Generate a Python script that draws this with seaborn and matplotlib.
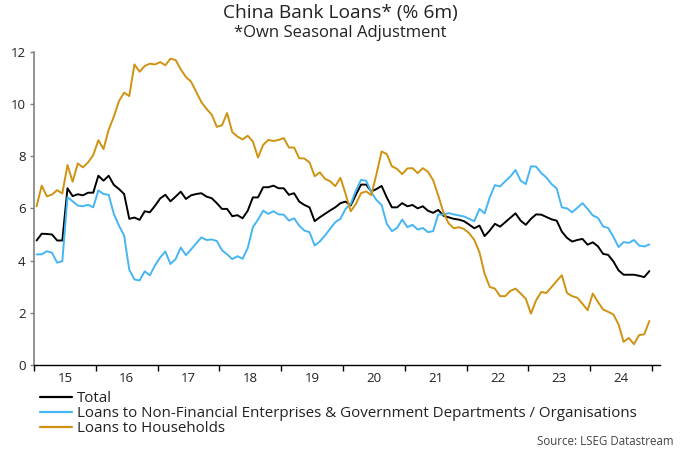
import numpy as np
import pandas as pd
import matplotlib
matplotlib.use("Agg")
import matplotlib.pyplot as plt
import seaborn as sns
from matplotlib.lines import Line2D

# Monthly data, Jan 2015 .. Dec 2024 (% 6m)
total = [4.77, 5.03, 5.02, 5.0, 4.77, 4.77, 6.77, 6.47, 6.54, 6.5, 6.6, 6.6,
         7.25, 7.06, 7.25, 6.9, 6.74, 6.55, 5.6, 5.65, 5.56, 5.89, 5.85, 6.1,
         6.38, 6.52, 6.27, 6.45, 6.64, 6.36, 6.5, 6.55, 6.58, 6.45, 6.39, 6.2,
         5.98, 5.98, 5.7, 5.74, 5.62, 5.91, 6.42, 6.42, 6.81, 6.81, 6.87, 6.77,
         6.77, 6.52, 6.58, 6.26, 6.13, 6.04, 5.51, 5.66, 5.79, 5.92, 6.04, 6.2,
         6.26, 6.11, 6.52, 6.91, 6.91, 6.65, 6.74, 6.86, 6.42, 6.04, 6.04, 6.2,
         6.08, 6.13, 6.0, 6.08, 5.91, 5.83, 5.94, 5.72, 5.66, 5.6, 5.57, 5.51,
         5.38, 5.24, 5.34, 4.94, 5.15, 5.41, 5.3, 5.47, 5.64, 5.81, 5.53, 5.37,
         5.6, 5.77, 5.76, 5.67, 5.58, 5.53, 5.11, 4.87, 4.73, 4.79, 4.83, 4.61,
         4.7, 4.55, 4.26, 4.22, 3.97, 3.63, 3.46, 3.46, 3.46, 3.42, 3.37, 3.6]

nfe = [4.24, 4.24, 4.36, 4.3, 3.92, 3.98, 6.43, 6.27, 6.11, 6.08, 6.14, 6.04,
       6.69, 6.55, 6.52, 5.79, 5.34, 4.96, 3.65, 3.28, 3.24, 3.59, 3.44, 3.82,
       4.12, 4.35, 3.87, 4.06, 4.5, 4.21, 4.43, 4.66, 4.89, 4.79, 4.81, 4.75,
       4.4, 4.24, 4.06, 4.17, 4.07, 4.48, 5.28, 5.57, 5.91, 5.79, 5.89, 5.77,
       5.76, 5.53, 5.62, 5.34, 5.15, 5.09, 4.58, 4.73, 4.96, 5.22, 5.47, 5.6,
       5.98, 6.17, 6.68, 7.09, 7.06, 6.62, 6.32, 6.13, 5.41, 5.13, 5.25, 5.57,
       5.28, 5.37, 5.19, 5.25, 5.09, 5.13, 5.77, 5.76, 5.82, 5.77, 5.73, 5.69,
       5.6, 5.51, 5.98, 5.81, 6.42, 6.89, 6.84, 7.04, 7.22, 7.47, 7.06, 6.93,
       7.61, 7.6, 7.35, 7.18, 6.93, 6.76, 6.04, 6.0, 5.85, 6.02, 6.2, 5.98,
       5.73, 5.64, 5.31, 5.25, 4.92, 4.52, 4.71, 4.68, 4.79, 4.58, 4.54, 4.62]

households = [6.08, 6.87, 6.46, 6.53, 6.7, 6.57, 7.66, 7.02, 7.72, 7.57, 7.76, 8.04,
              8.61, 8.27, 9.01, 9.51, 10.11, 10.43, 10.3, 11.51, 11.23, 11.45, 11.54, 11.51,
              11.6, 11.48, 11.73, 11.68, 11.32, 11.03, 10.85, 10.46, 10.07, 9.81, 9.59, 9.12,
              9.18, 9.65, 8.92, 8.75, 8.64, 8.78, 8.56, 7.95, 8.43, 8.62, 8.58, 8.62,
              8.69, 8.33, 8.33, 7.92, 7.91, 7.76, 7.23, 7.38, 7.13, 7.04, 6.85, 7.17,
              6.56, 5.89, 6.17, 6.58, 6.65, 6.51, 7.31, 8.18, 8.08, 7.61, 7.51, 7.31,
              7.53, 7.54, 7.35, 7.54, 7.4, 7.08, 6.49, 5.85, 5.43, 5.24, 5.28, 5.21,
              5.05, 4.79, 4.32, 3.5, 2.99, 2.93, 2.64, 2.64, 2.84, 2.93, 2.74, 2.54,
              1.97, 2.48, 2.8, 2.76, 2.99, 3.22, 3.44, 2.76, 2.64, 2.58, 2.35, 2.1,
              2.74, 2.42, 2.13, 2.04, 1.94, 1.56, 0.89, 1.04, 0.8, 1.15, 1.18, 1.69]

series_names = ["Total",
                "Loans to Non-Financial Enterprises & Government Departments / Organisations",
                "Loans to Households"]
year_labels = ["15", "16", "17", "18", "19", "20", "21", "22", "23", "24"]
y_ticks = [0, 2, 4, 6, 8, 10, 12]

colors = ["#000000", "#45B6F2", "#CF9311"]

n = len(total)
xpos = 2015 + (np.arange(n) + 0.5) / 12.0
df = pd.concat([
    pd.DataFrame({"x": xpos, "value": vals, "series": name})
    for name, vals in zip(series_names, [total, nfe, households])
], ignore_index=True)

sns.set_theme(style="white")
plt.rcParams["font.family"] = ["Open Sans", "DejaVu Sans"]

fig = plt.figure(figsize=(6.8, 4.53), dpi=100)
ax = fig.add_axes([0.05, 0.194, 0.9206, 0.692])

sns.lineplot(data=df, x="x", y="value", hue="series", palette=colors,
             hue_order=series_names, linewidth=1.4, ax=ax, legend=False)

ax.set_xlim(2015, 2025.13)
ax.set_ylim(0, 12)
ax.set_xlabel("")
ax.set_ylabel("")

years = np.arange(2015, 2026)
ax.set_xticks(years)
ax.set_xticklabels([])
ax.set_xticks(np.arange(2015, 2025) + 0.5, minor=True)
ax.set_xticklabels(year_labels, minor=True)
ax.tick_params(axis="x", which="major", direction="out", length=4, width=1,
               color="black", bottom=True)
ax.tick_params(axis="x", which="minor", length=0, labelsize=9.5, pad=5,
               labelcolor="#222222")
ax.set_yticks(y_ticks)
ax.tick_params(axis="y", direction="out", length=3, width=1, color="#808080",
               left=True, labelsize=9.5, labelcolor="#222222", pad=3)

for s in ["top", "right"]:
    ax.spines[s].set_visible(False)
ax.spines["left"].set_color("#808080")
ax.spines["left"].set_linewidth(1.2)
ax.spines["bottom"].set_color("black")
ax.spines["bottom"].set_linewidth(1.0)
ax.grid(False)

handles = [Line2D([0], [0], color=c, lw=1.6) for c in colors]
fig.legend(handles, series_names, loc="upper left",
           bbox_to_anchor=(0.0588, 0.137), frameon=False, fontsize=10.9,
           handlelength=2.1, handletextpad=0.33, labelspacing=0.0,
           borderaxespad=0, borderpad=0, labelcolor="#222222")

fig.text(0.5, 0.971, "China Bank Loans* (% 6m)", ha="center", va="center",
         fontsize=13.8, color="#222222")
fig.text(0.5, 0.927, "*Own Seasonal Adjustment", ha="center", va="center",
         fontsize=12, color="#222222")
fig.text(0.99, 0.025, "Source: LSEG Datastream", ha="right", va="center",
         fontsize=8.3, color="#444444")

fig.savefig("out.png", dpi=100)
